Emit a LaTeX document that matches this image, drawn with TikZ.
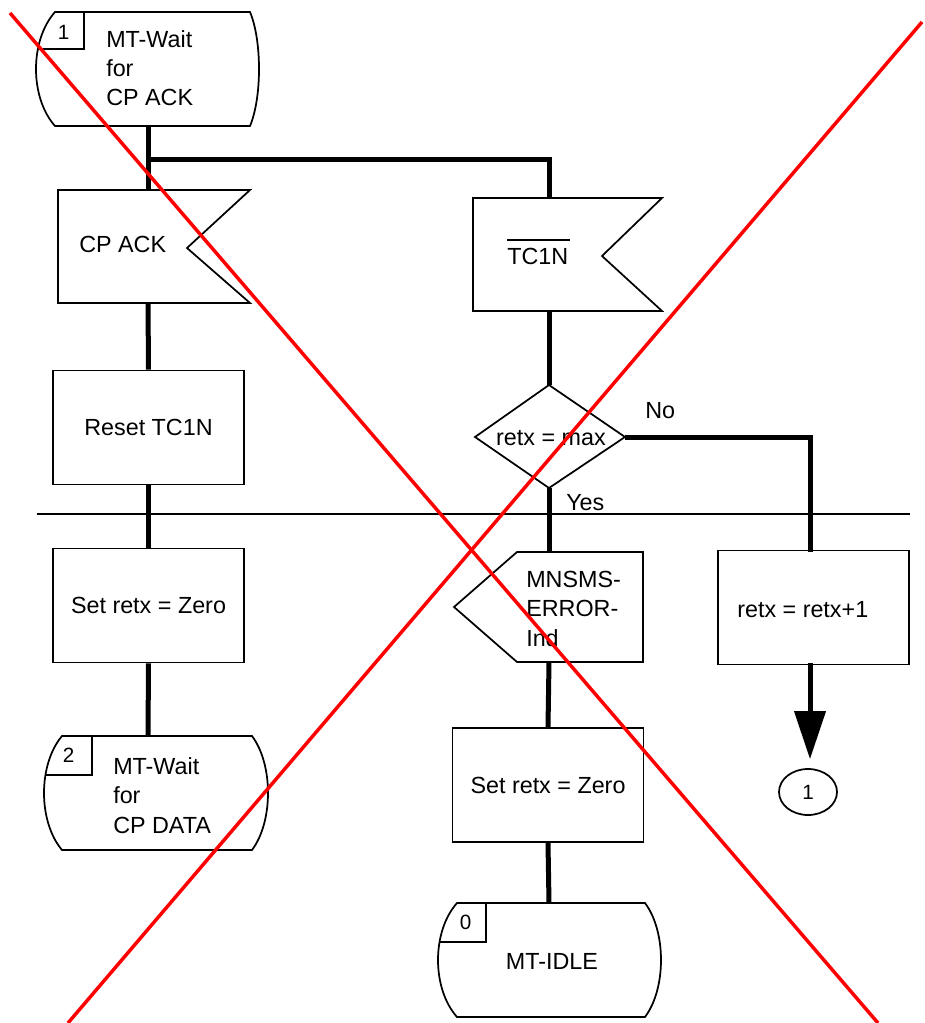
\documentclass[tikz,border=0pt]{standalone}
\usepackage{fontspec}
\setmainfont{Liberation Sans}
\usetikzlibrary{arrows.meta,shapes.geometric}
% x1 x2 xl xr top bot innerx innery
\newcommand\sdlstate[8]{%
  \draw[shapeline] (#1,#5) -- (#2,#5)
    .. controls ({(8*#4-2*#2)/6},{#5+(#6-#5)/4}) and ({(8*#4-2*#2)/6},{#5+3*(#6-#5)/4}) .. (#2,#6)
    -- (#1,#6)
    .. controls ({(8*#3-2*#1)/6},{#5+3*(#6-#5)/4}) and ({(8*#3-2*#1)/6},{#5+(#6-#5)/4}) .. (#1,#5) -- cycle;
  \begin{scope}
  \clip (#1,#5) -- (#2,#5)
    .. controls ({(8*#4-2*#2)/6},{#5+(#6-#5)/4}) and ({(8*#4-2*#2)/6},{#5+3*(#6-#5)/4}) .. (#2,#6)
    -- (#1,#6)
    .. controls ({(8*#3-2*#1)/6},{#5+3*(#6-#5)/4}) and ({(8*#3-2*#1)/6},{#5+(#6-#5)/4}) .. (#1,#5) -- cycle;
  \draw[shapeline] (#7,{#5-5}) -- (#7,#8) -- ({#3-10},#8);
  \end{scope}}
\begin{document}
\begin{tikzpicture}[x=0.75pt,y=-0.75pt,
  shapeline/.style={line width=1.3pt, line join=miter},
  conn/.style={line width=3.75pt},
  lbl/.style={font=\fontsize{17.5}{22}\selectfont, inner sep=0pt, align=left},
  num/.style={font=\fontsize{15.5}{18}\selectfont, inner sep=0pt},
  taskbox/.style={draw, line width=1.3pt, minimum width=143.25pt, minimum height=85.5pt, inner sep=0pt, font=\fontsize{17.5}{22}\selectfont},
  crossline/.style={red, line width=2.6pt}]

\path[use as bounding box, fill=white] (0,0) rectangle (924,1023);

% ---------- state 1 ----------
\sdlstate{55}{250}{36}{259}{12}{126}{84}{49}
\node[num] (s1n) at (63.5,32) {1};
\node[lbl, anchor=base west] (s1t) at (106,106) {MT-Wait\\for\\CP ACK};
\coordinate (s1bot) at (148,126);
\coordinate (j) at (148,160);

% ---------- input CP ACK ----------
\draw[shapeline] (58,190) -- (250,190) -- (187,248) -- (250,303) -- (58,303) -- cycle;
\node[lbl, anchor=base west] (cpack) at (79,253) {CP ACK};
\coordinate (cpTop) at (148,190);
\coordinate (cpBot) at (148,303);

% ---------- input TC1N ----------
\draw[shapeline] (473,198) -- (662,198) -- (602,256) -- (662,311) -- (473,311) -- cycle;
\node[lbl, anchor=base west] (tcl) at (507,265) {TC1N};
\draw[line width=1.1pt] ([yshift=6.5pt]tcl.north west) -- ([yshift=6.5pt,xshift=1.5pt]tcl.north east);
\coordinate (tcTop) at (549,198);
\coordinate (tcBot) at (549,311);

% ---------- tasks ----------
\node[taskbox] (reset) at (148.5,427.5) {Reset TC1N};
\node[taskbox] (set1) at (148.5,605.5) {Set retx = Zero};
\node[taskbox] (set2) at (548,785) {Set retx = Zero};
\node[taskbox] (inc) at (813.5,607.5) {};
\node[lbl, anchor=base west] (inct) at (737,617) {retx = retx+1};

% ---------- decision ----------
\draw[shapeline] (549,385) -- (625,437) -- (549,488) -- (475,437) -- cycle;
\node[lbl, anchor=base] (dec) at (551,445) {retx = max};
\coordinate (dTop) at (549,385);
\coordinate (dBot) at (549,488);
\coordinate (dRight) at (625,437);
\coordinate (incTop) at (810,552);
\node[lbl, anchor=base west] (no) at (645,418) {No};
\node[lbl, anchor=base west] (yes) at (566,510) {Yes};

% ---------- output MNSMS ----------
\draw[shapeline] (517,552) -- (643,552) -- (643,662) -- (517,662) -- (454,607) -- cycle;
\node[lbl, anchor=base west] (mns) at (526,646) {MNSMS-\\ERROR-\\Ind};
\coordinate (outTop) at (549,552);
\coordinate (outBot) at (549,662);

% ---------- state 2 ----------
\sdlstate{62}{252}{44}{268}{736}{850}{92}{775}
\node[num] (s2n) at (68.5,755.5) {2};
\node[lbl, anchor=base west] (s2t) at (113,833) {MT-Wait\\for\\CP DATA};
\coordinate (s2top) at (148,736);

% ---------- state 0 ----------
\sdlstate{457}{645}{438}{661}{903}{1017}{486}{942}
\node[num] (s0n) at (465.5,922.5) {0};
\node[lbl, anchor=base] (s0t) at (552,969) {MT-IDLE};
\coordinate (s0top) at (549,903);

% ---------- connector circle ----------
\node[draw, ellipse, line width=1.3pt, minimum width=43.5pt, minimum height=34.5pt, inner sep=0pt, font=\fontsize{15.5}{18}\selectfont] (c1) at (808,792) {1};
\coordinate (incBot) at (810,663);

% ---------- connectors ----------
\draw[conn] (s1bot) -- (cpTop);
\draw[conn] (j) -| (tcTop);
\draw[conn] (cpBot) -- (reset.north);
\draw[conn] (reset.south) -- (set1.north);
\draw[conn] (set1.south) -- (s2top);
\draw[conn] (tcBot) -- (dTop);
\draw[conn] (dBot) -- (outTop);
\draw[conn] (dRight) -| (incTop);
\draw[conn] (outBot) -- (set2.north);
\draw[conn] (set2.south) -- (s0top);
\draw[conn, -{Triangle[length=36pt,width=23pt]}, shorten >=6.75pt] (incBot) -- (incBot |- c1.north);

% ---------- divider ----------
\draw[line width=1.2pt] (37,514) -- (910,514);

% ---------- red cross ----------
\draw[crossline] (10,13) -- (878,1023);
\draw[crossline] (922,22) -- (68,1023);
\end{tikzpicture}
\end{document}
